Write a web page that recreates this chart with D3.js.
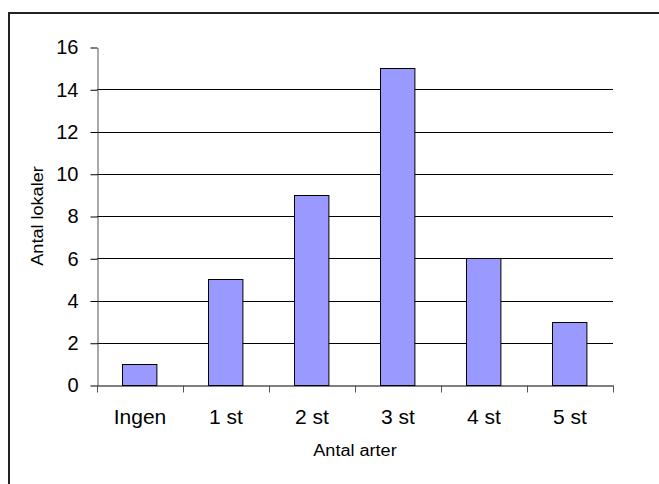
<!DOCTYPE html>
<html>
<head>
<meta charset="utf-8">
<script src="https://cdn.jsdelivr.net/npm/d3@7"></script>
<style>
  body { margin: 0; background: #fff; }
  svg { display: block; font-family: Arial, "Liberation Sans", sans-serif; }
</style>
</head>
<body>
<div id="chart"></div>
<script>
// Data
const categories = ["Ingen", "1 st", "2 st", "3 st", "4 st", "5 st"];
const counts = [1, 5, 9, 15, 6, 3];
const yTicks = [0, 2, 4, 6, 8, 10, 12, 14, 16];

const width = 659;
const height = 484;
const margin = { top: 47, right: 46, bottom: 99, left: 97 };

const svg = d3.select("#chart")
    .append("svg")
    .attr("width", width)
    .attr("height", height);

// Outer frame (right and bottom edges run off the picture)
svg.append("rect")
    .attr("x", 9)
    .attr("y", 13)
    .attr("width", 800)
    .attr("height", 600)
    .attr("fill", "none")
    .attr("stroke", "#222")
    .attr("stroke-width", 2);

const x = d3.scaleBand()
    .domain(categories)
    .range([margin.left, width - margin.right])
    .paddingInner(0.6)
    .paddingOuter(0.3);

const y = d3.scaleLinear()
    .domain([0, 16])
    .range([height - margin.bottom, margin.top]);

// Gridlines (none at the top value)
svg.append("g")
    .selectAll("line")
    .data(yTicks.filter(d => d > 0 && d < 16))
    .enter()
    .append("line")
    .attr("x1", margin.left)
    .attr("x2", width - margin.right)
    .attr("y1", d => Math.round(y(d)) + 0.5)
    .attr("y2", d => Math.round(y(d)) + 0.5)
    .attr("stroke", "#000")
    .attr("stroke-width", 1);

// Bars
svg.append("g")
    .selectAll("rect")
    .data(categories)
    .enter()
    .append("rect")
    .attr("x", d => Math.round(x(d)) - 0.5)
    .attr("y", (d, i) => Math.round(y(counts[i])) + 0.5)
    .attr("width", x.bandwidth())
    .attr("height", (d, i) => Math.round(y(0)) - Math.round(y(counts[i])))
    .attr("fill", "#9999ff")
    .attr("stroke", "#000")
    .attr("stroke-width", 1);

// Y axis
const yAxis = svg.append("g")
    .attr("transform", `translate(${margin.left + 0.5}, 0.5)`)
    .call(d3.axisLeft(y).tickValues(yTicks).tickSize(7).tickPadding(12).tickSizeOuter(0));
yAxis.select(".domain").attr("stroke", "#555");
yAxis.selectAll(".tick line").attr("stroke", "#000");
yAxis.selectAll(".tick text")
    .attr("fill", "#000")
    .style("font-size", "20px")
    .style("font-family", "Arial, 'Liberation Sans', sans-serif");

// X axis: labels at category centres, ticks at category boundaries
const xAxis = svg.append("g")
    .attr("transform", `translate(0, ${Math.round(y(0)) + 0.5})`)
    .call(d3.axisBottom(x).tickSize(0).tickPadding(24).tickSizeOuter(0));
xAxis.select(".domain").attr("stroke", "#000");
xAxis.selectAll(".tick text")
    .attr("fill", "#000")
    .style("font-size", "21px")
    .style("font-family", "Arial, 'Liberation Sans', sans-serif");

const bounds = d3.range(categories.length + 1).map(i => x.range()[0] + i * x.step());
xAxis.selectAll(".boundary")
    .data(bounds)
    .enter()
    .append("line")
    .attr("class", "boundary")
    .attr("x1", d => Math.round(d) + 0.5)
    .attr("x2", d => Math.round(d) + 0.5)
    .attr("y1", 0)
    .attr("y2", 7)
    .attr("stroke", "#555");

// Axis titles (slightly widened like the original rendering)
const xTitle = svg.append("text")
    .attr("x", (margin.left + width - margin.right) / 2)
    .attr("y", 456)
    .attr("text-anchor", "middle")
    .style("font-size", "16px")
    .text("Antal arter");
xTitle.attr("textLength", xTitle.node().getComputedTextLength() * 1.13)
    .attr("lengthAdjust", "spacingAndGlyphs");

const yTitle = svg.append("text")
    .attr("transform", `translate(43, ${(margin.top + height - margin.bottom) / 2}) rotate(-90)`)
    .attr("text-anchor", "middle")
    .style("font-size", "16px")
    .text("Antal lokaler");
yTitle.attr("textLength", yTitle.node().getComputedTextLength() * 1.13)
    .attr("lengthAdjust", "spacingAndGlyphs");
</script>
</body>
</html>
